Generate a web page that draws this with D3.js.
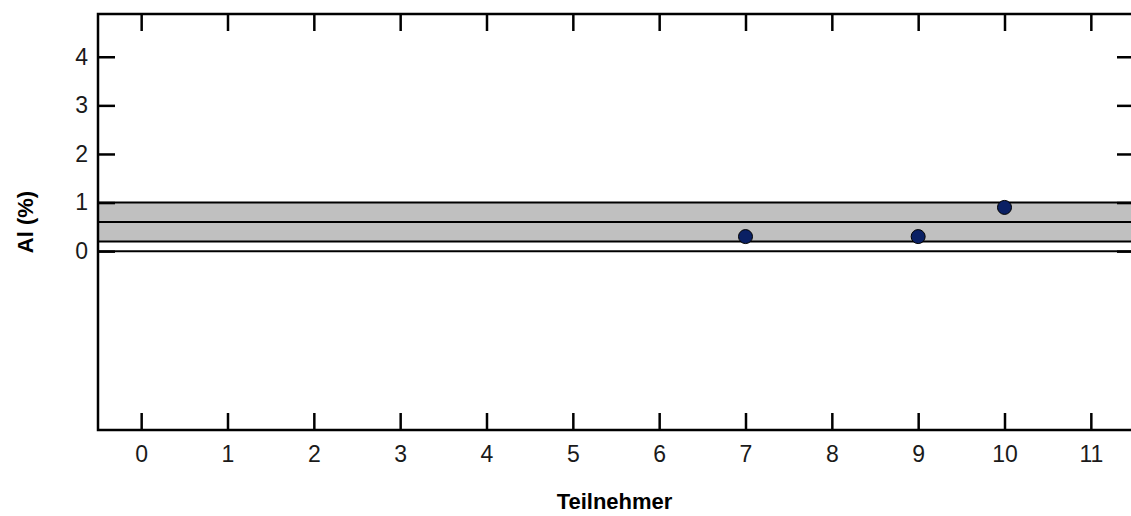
<!DOCTYPE html>
<html>
<head>
<meta charset="utf-8">
<script src="https://cdn.jsdelivr.net/npm/d3@7"></script>
<style>
  html, body { margin: 0; padding: 0; background: #fff; }
  svg { display: block; font-family: "Liberation Sans", Arial, sans-serif; }
</style>
</head>
<body>
<svg id="chart" width="1131" height="516"></svg>
<script>
// Participants and their measured Al content (%)
const participants = [7, 9, 10];
const alValues = [0.3, 0.3, 0.9];

// Reference band: lower limit, assigned value, upper limit
const bandLower = 0.2;
const bandCenter = 0.6;
const bandUpper = 1.0;

const xTicks = [0, 1, 2, 3, 4, 5, 6, 7, 8, 9, 10, 11];
const yTicks = [0, 1, 2, 3, 4];

(function draw() {
  const svg = d3.select("#chart");
  const mLeft = 98, mRight = 1134, mTop = 14, mBottom = 430;
  const plotRight = 1131;

  const x = d3.scaleLinear().domain([-0.5, 11.5]).range([mLeft, mRight]);
  const y = d3.scaleLinear().domain([-3.68, 4.88]).range([mBottom, mTop]);

  // Reference band
  svg.append("rect")
    .attr("x", mLeft).attr("width", plotRight - mLeft)
    .attr("y", y(bandUpper)).attr("height", y(bandLower) - y(bandUpper))
    .attr("fill", "#c0c0c0");

  [bandUpper, bandCenter, bandLower, 0].forEach(v => {
    svg.append("line")
      .attr("x1", mLeft).attr("x2", plotRight)
      .attr("y1", y(v)).attr("y2", y(v))
      .attr("stroke", "#000").attr("stroke-width", 2);
  });

  // Axes
  const tickLen = 17;
  const bottomAxis = d3.axisBottom(x).tickValues(xTicks).tickSizeInner(-tickLen).tickSizeOuter(0).tickPadding(16);
  const topAxis = d3.axisTop(x).tickValues(xTicks).tickSizeInner(-tickLen).tickSizeOuter(0).tickFormat("");
  const leftAxis = d3.axisLeft(y).tickValues(yTicks).tickSizeInner(-tickLen).tickSizeOuter(0).tickPadding(10);
  const rightAxis = d3.axisRight(y).tickValues(yTicks).tickSizeInner(-14).tickSizeOuter(0).tickFormat("");

  function styleAxis(g) {
    g.attr("font-size", null).attr("font-family", null);
    g.select(".domain").remove();
    g.selectAll(".tick line").attr("stroke", "#000").attr("stroke-width", 2.5);
    g.selectAll(".tick text").attr("fill", "#1a1a1a").style("font-size", "23px");
  }

  svg.append("g").attr("transform", `translate(0,${mBottom})`).call(bottomAxis).call(styleAxis);
  svg.append("g").attr("transform", `translate(0,${mTop})`).call(topAxis).call(styleAxis);
  svg.append("g").attr("transform", `translate(${mLeft},0)`).call(leftAxis).call(styleAxis);
  svg.append("g").attr("transform", `translate(${plotRight},0)`).call(rightAxis).call(styleAxis);

  // Frame lines (top, left, bottom)
  svg.append("path")
    .attr("d", `M${plotRight},${mTop}H${mLeft}V${mBottom}H${plotRight}`)
    .attr("fill", "none").attr("stroke", "#000").attr("stroke-width", 2.5);

  // Data points
  svg.append("g").selectAll("circle")
    .data(participants.map((p, i) => ({ p, v: alValues[i] })))
    .join("circle")
    .attr("cx", d => x(d.p)).attr("cy", d => y(d.v))
    .attr("r", 7)
    .attr("fill", "#0a2064")
    .attr("stroke", "#000").attr("stroke-width", 1);

  // Axis titles
  svg.append("text")
    .attr("x", (mLeft + plotRight) / 2).attr("y", 509)
    .attr("text-anchor", "middle")
    .style("font-size", "22px").style("font-weight", "bold")
    .text("Teilnehmer");

  svg.append("text")
    .attr("transform", `translate(33,222) rotate(-90)`)
    .attr("text-anchor", "middle")
    .style("font-size", "22px").style("font-weight", "bold")
    .text("Al (%)");
})();
</script>
</body>
</html>
